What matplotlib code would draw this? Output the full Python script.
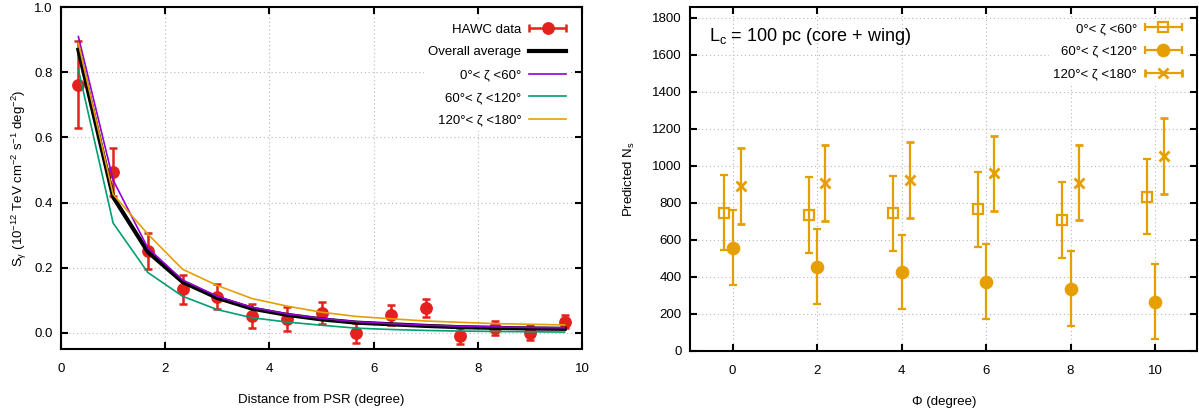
import numpy as np
import matplotlib
matplotlib.use("Agg")
import matplotlib.pyplot as plt
from matplotlib.legend_handler import HandlerErrorbar

plt.rcParams['font.family'] = ['Liberation Sans', 'DejaVu Sans']
plt.rcParams['mathtext.fontset'] = 'custom'
plt.rcParams['mathtext.rm'] = 'Liberation Sans'
plt.rcParams['font.size'] = 9.5

# ---- left panel data: surface brightness profile ----
dist = [0.333, 1.0, 1.667, 2.333, 3.0, 3.667, 4.333, 5.0, 5.667, 6.333,
        7.0, 7.667, 8.333, 9.0, 9.667]
hawc = [0.762, 0.495, 0.251, 0.133, 0.111, 0.052, 0.042, 0.060, 0.0, 0.054,
        0.076, -0.011, 0.015, 0.0, 0.034]
hawc_err = [0.133, 0.074, 0.056, 0.045, 0.039, 0.036, 0.036, 0.034, 0.031, 0.031,
            0.028, 0.025, 0.021, 0.023, 0.021]
avg_all = [0.869, 0.417, 0.248, 0.156, 0.107, 0.074, 0.055, 0.041, 0.031, 0.026,
           0.021, 0.017, 0.015, 0.013, 0.012]
zeta_0_60 = [0.910, 0.469, 0.260, 0.162, 0.112, 0.078, 0.058, 0.044, 0.034, 0.028,
             0.023, 0.020, 0.018, 0.016, 0.015]
zeta_60_120 = [0.809, 0.337, 0.185, 0.112, 0.071, 0.046, 0.033, 0.023, 0.014, 0.010,
               0.007, 0.005, 0.004, 0.003, 0.002]
zeta_120_180 = [0.890, 0.425, 0.303, 0.195, 0.145, 0.105, 0.082, 0.063, 0.050, 0.043,
                0.036, 0.032, 0.028, 0.026, 0.024]

# ---- right panel data: predicted Ns vs Phi ----
phi = [0, 2, 4, 6, 8, 10]
ns_0_60 = [745, 733, 742, 763, 706, 832]
ns_0_60_err = [203, 204, 203, 203, 203, 203]
ns_60_120 = [556, 454, 425, 373, 335, 265]
ns_60_120_err = [202, 203, 202, 204, 202, 204]
ns_120_180 = [891, 906, 920, 958, 907, 1053]
ns_120_180_err = [204, 204, 205, 204, 203, 205]

zeta_labels = ['0°< ζ <60°', '60°< ζ <120°', '120°< ζ <180°']

RED = '#e4211c'
PURPLE = '#9400d3'
GREEN = '#009e73'
ORANGE = '#e69f00'

fig = plt.figure(figsize=(11.99, 4.09), dpi=100)
ax1 = fig.add_axes([0.0509, 0.1467, 0.4345, 0.8355])
ax2 = fig.add_axes([0.5757, 0.1425, 0.4229, 0.8396])


def style_axes(ax):
    for s in ax.spines.values():
        s.set_linewidth(1.5)
    ax.tick_params(direction='in', length=5.3, width=1.5, top=True, right=True,
                   labelsize=9.5)
    ax.tick_params(axis='x', pad=10)
    ax.tick_params(axis='y', pad=6)
    ax.grid(True, linestyle=(0, (1, 2.5)), color='#b8b8b8', linewidth=0.8)
    ax.set_axisbelow(True)


# left panel
style_axes(ax1)
ax1.errorbar(dist, hawc, yerr=hawc_err, fmt='o', color=RED, ms=8.2,
             elinewidth=1.8, capsize=2.8, capthick=1.8, zorder=2)
ax1.plot(dist, avg_all, color='black', lw=3, zorder=3)
ax1.plot(dist, zeta_0_60, color=PURPLE, lw=1.2, zorder=3)
ax1.plot(dist, zeta_60_120, color=GREEN, lw=1.2, zorder=3)
ax1.plot(dist, zeta_120_180, color=ORANGE, lw=1.2, zorder=3)

h_hawc = ax1.errorbar([np.nan], [np.nan], xerr=[[1], [1]], fmt='o', color=RED,
                      ms=8.2, elinewidth=1.8, capsize=2.8, capthick=1.8)
h_avg, = ax1.plot([], [], color='black', lw=3)
h_a, = ax1.plot([], [], color=PURPLE, lw=1.2)
h_b, = ax1.plot([], [], color=GREEN, lw=1.2)
h_c, = ax1.plot([], [], color=ORANGE, lw=1.2)
leg1 = ax1.legend([h_hawc, h_avg, h_a, h_b, h_c],
                  ['HAWC data', 'Overall average'] + zeta_labels,
                  loc='upper right', bbox_to_anchor=(0.99, 0.984),
                  markerfirst=False, handlelength=2.8, handletextpad=0.6,
                  labelspacing=0.8, borderpad=0.3, fontsize=9.5,
                  frameon=True, fancybox=False, framealpha=1,
                  edgecolor='none', facecolor='white',
                  handler_map={h_hawc: HandlerErrorbar(xerr_size=1.4)})
leg1.set_zorder(5)

ax1.set_xlim(0, 10)
ax1.set_ylim(-0.05, 1.0)
ax1.set_xticks(np.arange(0, 11, 2))
ax1.set_yticks(np.arange(0, 1.01, 0.2))
ax1.yaxis.set_major_formatter(matplotlib.ticker.FormatStrFormatter('%.1f'))
ax1.set_xlabel('Distance from PSR (degree)', fontsize=9.5, labelpad=14)
ax1.set_ylabel(r'S$_{\mathregular{γ}}$ (10$^{\mathregular{-12}}$ TeV cm$^{\mathregular{-2}}$ '
               r's$^{\mathregular{-1}}$ deg$^{\mathregular{-2}}$)', fontsize=9.5, labelpad=4)

# right panel
style_axes(ax2)
offsets = [-0.2, 0.0, 0.2]
series = [(ns_0_60, ns_0_60_err, 's', dict(mfc='none', ms=7.5, mew=1.6)),
          (ns_60_120, ns_60_120_err, 'o', dict(ms=8.8)),
          (ns_120_180, ns_120_180_err, 'x', dict(ms=7.5, mew=2))]
handles2 = []
for (vals, errs, mk, kw), off in zip(series, offsets):
    xs = np.array(phi) + off
    ax2.errorbar(xs, vals, yerr=errs, fmt=mk, color=ORANGE, elinewidth=1.6,
                 capsize=2.9, capthick=1.6, zorder=3, **kw)
    h = ax2.errorbar([np.nan], [np.nan], xerr=[[1], [1]], fmt=mk, color=ORANGE,
                     elinewidth=1.6, capsize=2.9, capthick=1.6, **kw)
    handles2.append(h)

leg2 = ax2.legend(handles2, zeta_labels, loc='upper right',
                  bbox_to_anchor=(0.99, 0.986), markerfirst=False,
                  handlelength=2.8, handletextpad=0.6, labelspacing=0.8,
                  borderpad=0.3, fontsize=9.5, frameon=True, fancybox=False,
                  framealpha=1, edgecolor='none', facecolor='white',
                  handler_map={h: HandlerErrorbar(xerr_size=1.4) for h in handles2})
leg2.set_zorder(5)

ax2.text(-0.55, 1700, r'L$_{\mathregular{c}}$ = 100 pc (core + wing)', fontsize=13,
         ha='left', va='center')
ax2.set_xlim(-1, 11)
ax2.set_ylim(0, 1855)
ax2.set_xticks(np.arange(0, 11, 2))
ax2.set_yticks(np.arange(0, 1801, 200))
ax2.set_xlabel('Φ (degree)', fontsize=9.5, labelpad=14)
ax2.set_ylabel(r'Predicted N$_{\mathregular{s}}$', fontsize=9.5, labelpad=11)

fig.savefig('out.png', dpi=100)
